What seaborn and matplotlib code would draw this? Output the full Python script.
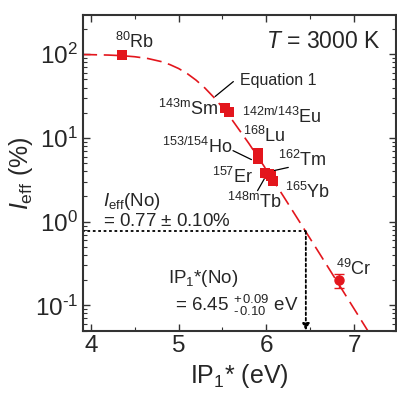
import numpy as np
import pandas as pd
import matplotlib
matplotlib.use("Agg")
import matplotlib.pyplot as plt
from matplotlib.ticker import FuncFormatter
import seaborn as sns

# measured points: effective ionisation efficiency vs IP1*
elements = ["Rb", "Sm", "Eu", "Lu", "Ho", "Er", "Tm", "Tb", "Yb"]
ip_vals = [4.36, 5.53, 5.58, 5.90, 5.91, 5.985, 6.03, 6.05, 6.08]
ieff_vals = [98.0, 23.0, 20.7, 6.6, 5.6, 3.8, 3.7, 3.5, 3.1]
ieff_errs = [3.0, 1.8, 1.6, 0.6, 0.5, 0.35, 0.3, 0.3, 0.3]

# chromium (circle marker)
cr_ip = [6.83]
cr_ieff = [0.20]
cr_err = [0.04]

# Equation 1 curve
curve_ip = [3.9, 4.0, 4.2, 4.35, 4.5, 4.65, 4.8, 4.9, 5.0, 5.1, 5.2, 5.3, 5.4,
            5.5, 5.6, 5.8, 6.0, 6.2, 6.4, 6.6, 6.8, 7.0, 7.2]
curve_ieff = [99.3, 99.0, 97.9, 96.3, 93.5, 89.0, 81.9, 75.4, 67.6, 58.6, 49.0,
              39.5, 30.7, 23.2, 17.0, 8.63, 4.18, 1.97, 0.918, 0.426, 0.197,
              0.091, 0.042]

# nobelium result
no_ip = 6.45
no_ieff = 0.77

RED = "#e3161d"

sns.set_style("ticks")
plt.rcParams["font.family"] = ["Liberation Sans", "DejaVu Sans"]
plt.rcParams["mathtext.fontset"] = "custom"
plt.rcParams["mathtext.rm"] = "Liberation Sans"
plt.rcParams["mathtext.it"] = "Liberation Sans:italic"
plt.rcParams["mathtext.bf"] = "Liberation Sans:bold"
plt.rcParams["axes.unicode_minus"] = False

fig = plt.figure(figsize=(3.97, 3.94), dpi=100)
ax = fig.add_axes([0.209, 0.161, 0.789, 0.801])

df = pd.DataFrame({"ip": ip_vals, "ieff": ieff_vals, "el": elements})
curve = pd.DataFrame({"ip": curve_ip, "ieff": curve_ieff})

sns.lineplot(data=curve, x="ip", y="ieff", ax=ax, color=RED, lw=1.2,
             sort=False)
ax.lines[-1].set_dashes([9, 4])

ax.errorbar(ip_vals, ieff_vals, yerr=ieff_errs, fmt="none", ecolor=RED,
            elinewidth=1, capsize=2.5, zorder=3)
sns.scatterplot(data=df, x="ip", y="ieff", ax=ax, marker="s", s=50,
                color=RED, edgecolor=RED, linewidth=0, zorder=4)
ax.errorbar(cr_ip, cr_ieff, yerr=cr_err, fmt="o", color=RED, ms=6.5,
            elinewidth=1, capsize=3.5, zorder=4)

# dotted guide lines for No
ax.plot([3.9, no_ip], [no_ieff, no_ieff], ls=(0, (1.5, 1.5)), color="k", lw=1.3)
ax.annotate("", xy=(no_ip, 0.05), xytext=(no_ip, no_ieff),
            arrowprops=dict(arrowstyle="-|>", ls=(0, (1.5, 1.5)), color="k",
                            lw=1.3, mutation_scale=10, shrinkA=0, shrinkB=0))

ax.set_yscale("log")
ax.set_xlim(3.91, 7.48)
ax.set_ylim(0.05, 295)
ax.set_xticks([4, 5, 6, 7])
ax.set_xticks(np.arange(4.5, 7.5, 1.0), minor=True)
ax.yaxis.set_major_formatter(
    FuncFormatter(lambda v, p: r"$10^{\text{%d}}$" % round(np.log10(v))))
ax.tick_params(which="both", direction="in", top=True, right=True,
               labelsize=17.5, color="#333333")
ax.tick_params(which="major", length=5, width=1)
ax.tick_params(which="minor", length=3, width=0.8)
for s in ax.spines.values():
    s.set_linewidth(1.5)
    s.set_color("#333333")

ax.set_xlabel("IP$_1$* (eV)", fontsize=18, labelpad=3)
ax.set_ylabel(r"$I_{\mathrm{eff}}$ (%)", fontsize=18, labelpad=0)

fs = 13
ax.text(7.295, 144, r"$T$ = 3000 K", fontsize=16.5, ha="right", va="center")
ax.text(4.277, 119, r"$^{80}$Rb", fontsize=fs, ha="left", va="baseline")
ax.text(5.45, 18.9, r"$^{\mathrm{143m}}$Sm", fontsize=fs, ha="right",
        va="baseline")
ax.text(5.72, 15.1, r"$^{\mathrm{142m/143}}$Eu", fontsize=fs, ha="left",
        va="baseline")
ax.text(5.735, 8.87, r"$^{168}$Lu", fontsize=fs, ha="left", va="baseline")
ax.text(5.61, 6.6, r"$^{153/154}$Ho", fontsize=fs, ha="right", va="baseline")
ax.text(5.85, 2.91, r"$^{157}$Er", fontsize=fs, ha="right", va="baseline")
ax.text(6.13, 4.68, r"$^{162}$Tm", fontsize=fs, ha="left", va="baseline")
ax.text(6.21, 1.93, r"$^{165}$Yb", fontsize=fs, ha="left", va="baseline")
ax.text(5.55, 1.47, r"$^{\mathrm{148m}}$Tb", fontsize=fs, ha="left",
        va="baseline")
ax.text(6.79, 0.232, r"$^{49}$Cr", fontsize=fs, ha="left", va="baseline")
ax.text(5.70, 43.2, "Equation 1", fontsize=11.5, ha="left", va="baseline")

# leader lines
lk = dict(color="k", lw=0.9)
ax.plot([5.624, 5.416], [47.2, 31.3], **lk)
ax.plot([5.62, 5.83], [7.06, 5.52], **lk)
ax.plot([6.25, 6.0], [4.45, 3.89], **lk)
ax.plot([5.90, 6.02], [2.35, 3.9], **lk)

ax.text(4.14, 1.53, r"$I_{\mathrm{eff}}$(No)", fontsize=13.5, ha="left",
        va="baseline")
ax.text(4.14, 0.887, r"= 0.77 $\pm$ 0.10%", fontsize=13.5, ha="left",
        va="baseline")
ax.text(4.88, 0.185, r"IP$_1$*(No)", fontsize=13.5, ha="left", va="baseline")
ax.text(4.96, 0.085, r"= 6.45 $^{+\,0.09}_{\text{-}\,0.10}$ eV", fontsize=13.5,
        ha="left", va="baseline")

fig.savefig("out.png", dpi=100)
